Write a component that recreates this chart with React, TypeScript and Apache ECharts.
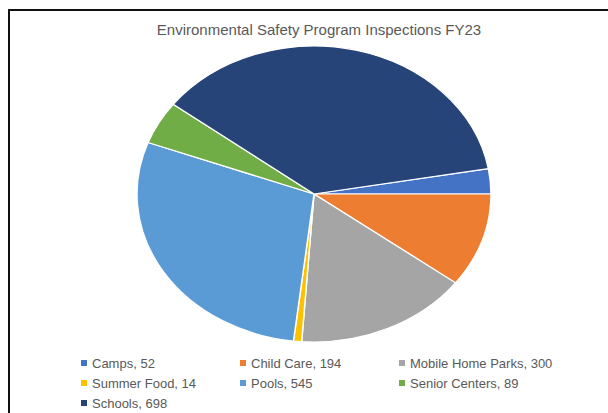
import React, { useEffect, useRef } from 'react';
import * as echarts from 'echarts';

const titleText = 'Environmental Safety Program Inspections FY23';
const categories = ['Camps', 'Child Care', 'Mobile Home Parks', 'Summer Food', 'Pools', 'Senior Centers', 'Schools'];
const values = [52, 194, 300, 14, 545, 89, 698];
const colors = ['#4472C4', '#ED7D31', '#A5A5A5', '#FFC000', '#5B9BD5', '#70AD47', '#264478'];
const legendColumns = [
  ['Camps', 'Summer Food', 'Schools'],
  ['Child Care', 'Pools'],
  ['Mobile Home Parks', 'Senior Centers'],
];

const FONT = 'Liberation Sans, Arial, sans-serif';
const W = 608;
const H = 413;
const CX = 314;
const CY = 194;
const RY = 148;
const RX = 177;

const pieData = categories.map((name, i) => ({ name, value: values[i], itemStyle: { color: colors[i] } }));

export default function App() {
  const pieRef = useRef<HTMLDivElement>(null);
  const textRef = useRef<HTMLDivElement>(null);

  useEffect(() => {
    const pie = echarts.init(pieRef.current!, undefined, { renderer: 'svg' });
    pie.setOption({
      animation: false,
      series: [
        {
          type: 'pie',
          center: [CX, CY],
          radius: RY,
          startAngle: 9.9,
          clockwise: true,
          silent: true,
          label: { show: false },
          labelLine: { show: false },
          emphasis: { disabled: true },
          itemStyle: { borderColor: '#ffffff', borderWidth: 1.2 },
          data: pieData,
        },
      ],
    });

    const txt = echarts.init(textRef.current!, undefined, { renderer: 'svg' });
    const colLeft = [81, 240, 399];
    txt.setOption({
      animation: false,
      color: colors,
      title: {
        text: titleText,
        left: 314,
        top: 17,
        textAlign: 'center',
        textStyle: { fontFamily: FONT, fontSize: 15, fontWeight: 'normal', color: '#595959' },
      },
      legend: legendColumns.map((col, i) => ({
        data: col,
        orient: 'vertical',
        left: colLeft[i],
        top: 356,
        icon: 'rect',
        itemWidth: 6,
        itemHeight: 6,
        itemGap: 6,
        padding: 0,
        selectedMode: false,
        formatter: (name: string) => `${name}, ${values[categories.indexOf(name)]}`,
        textStyle: { fontFamily: FONT, fontSize: 13, color: '#595959', lineHeight: 14 },
      })),
      graphic: [
        {
          type: 'polyline',
          shape: { points: [[9, H], [9, 10], [W, 10]] },
          style: { stroke: '#111111', lineWidth: 2, fill: null },
        },
      ],
      series: [
        {
          type: 'pie',
          center: [CX, CY],
          radius: 0,
          silent: true,
          label: { show: false },
          labelLine: { show: false },
          data: pieData,
        },
      ],
    });

    return () => {
      pie.dispose();
      txt.dispose();
    };
  }, []);

  return (
    <div style={{ position: 'fixed', left: 0, top: 0, width: W, height: H, background: '#ffffff', overflow: 'hidden' }}>
      <div
        ref={pieRef}
        style={{
          position: 'absolute',
          left: 0,
          top: 0,
          width: W,
          height: H,
          transformOrigin: `${CX}px ${CY}px`,
          transform: `scaleX(${RX / RY})`,
        }}
      />
      <div ref={textRef} style={{ position: 'absolute', left: 0, top: 0, width: W, height: H }} />
    </div>
  );
}
